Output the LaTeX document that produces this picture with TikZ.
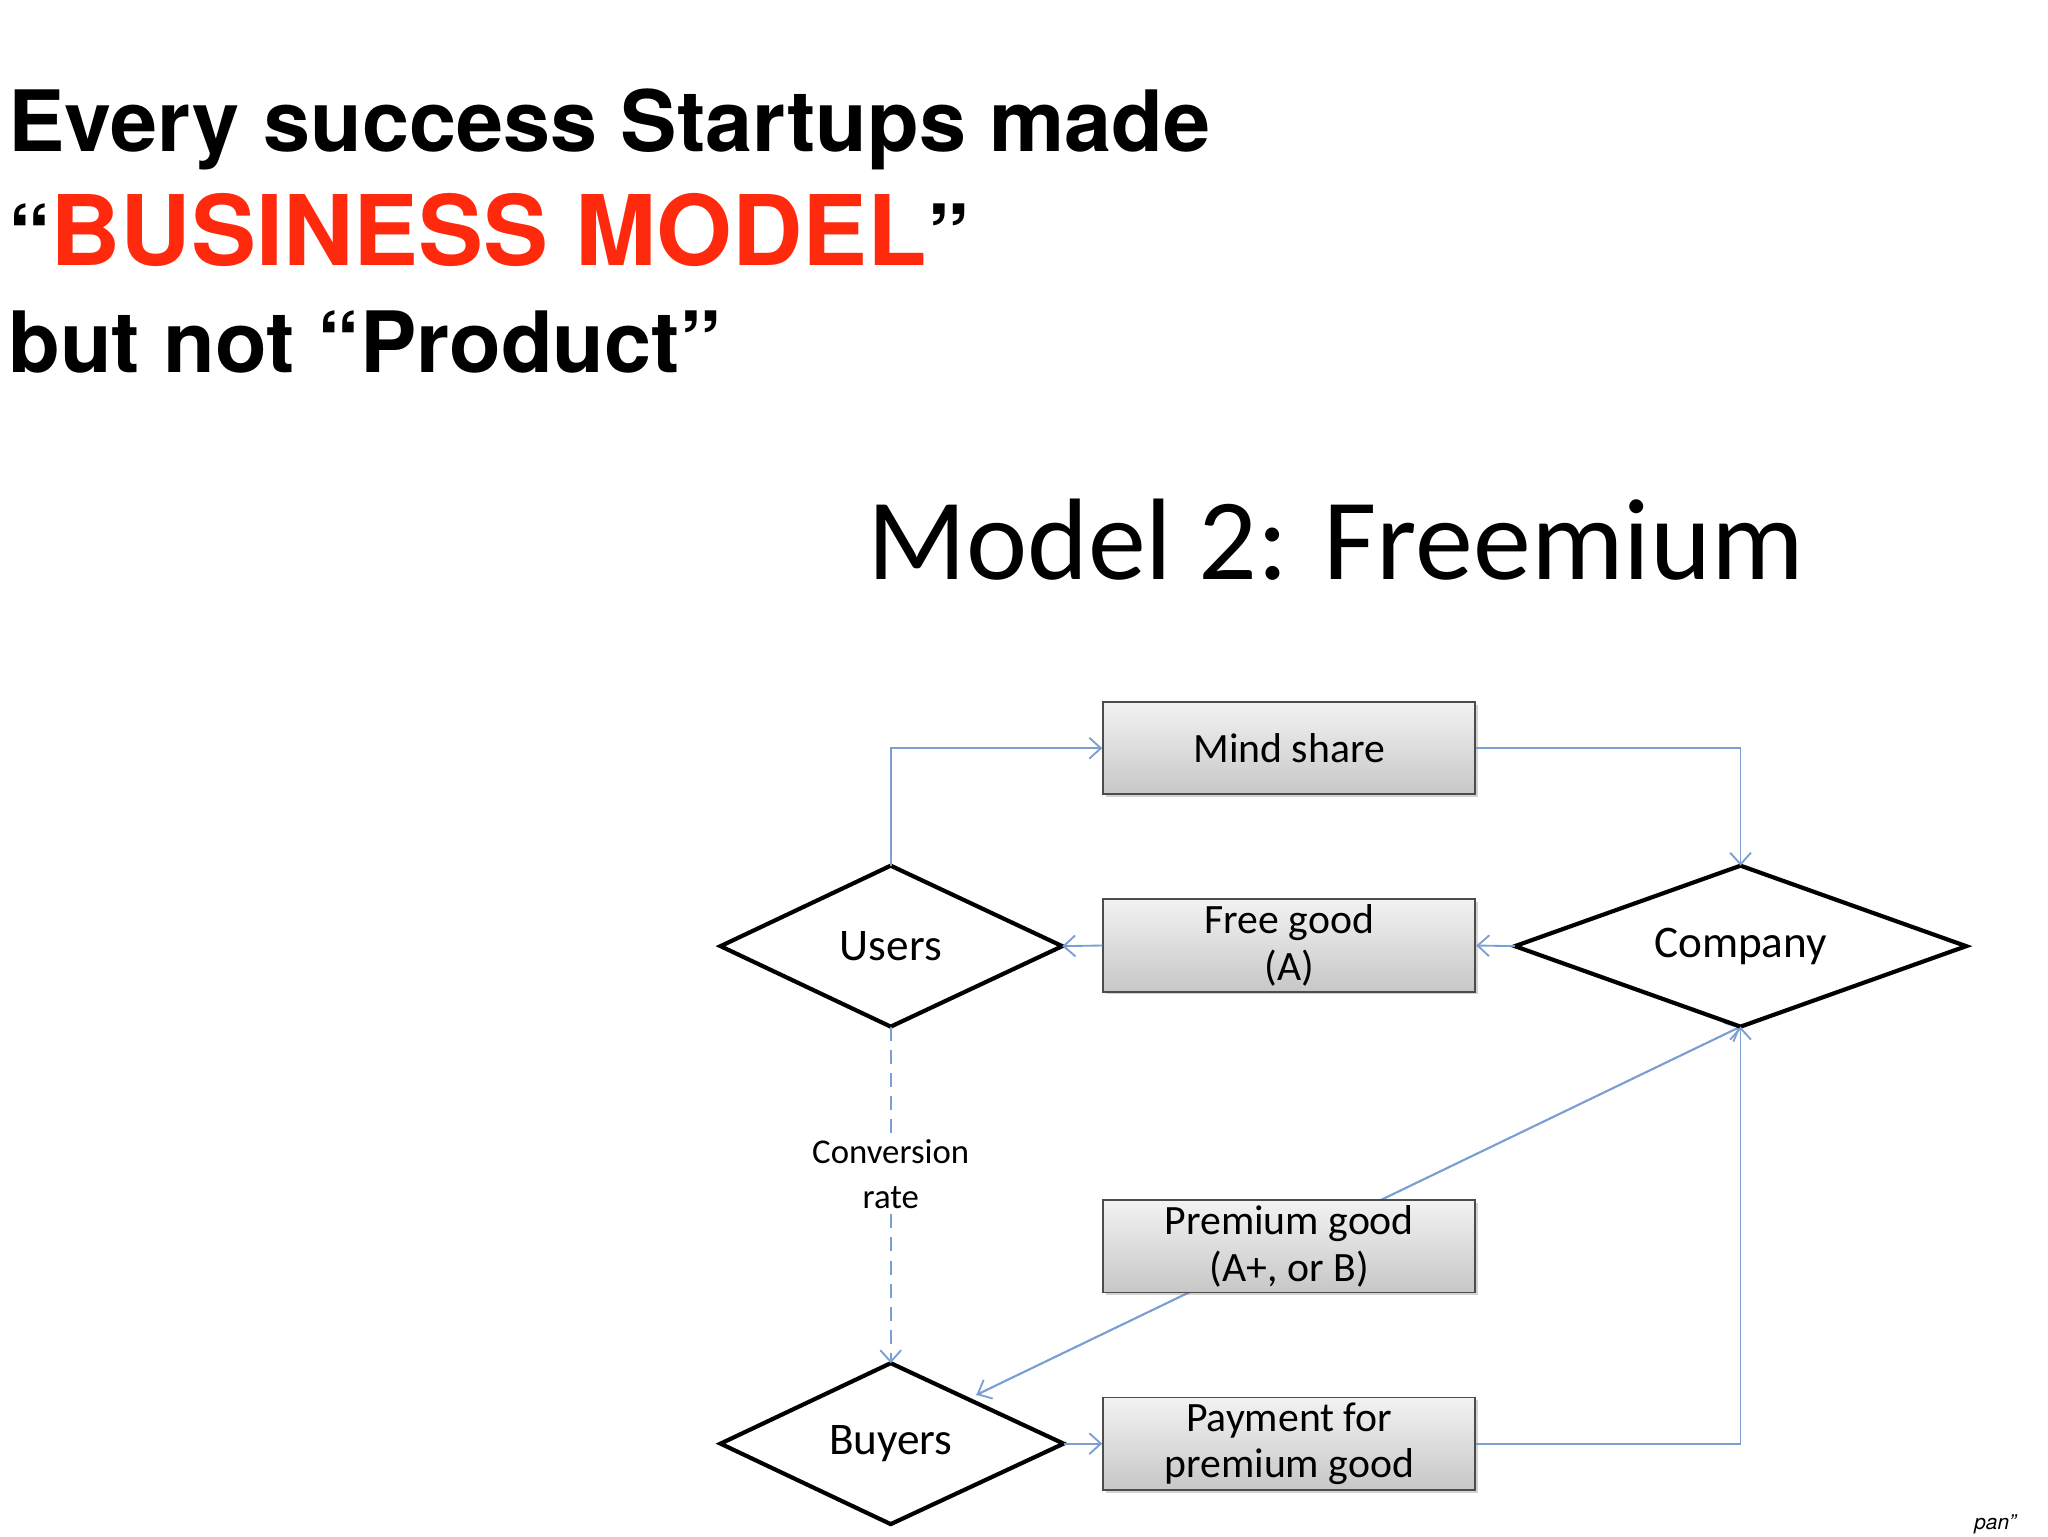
\documentclass[tikz,border=0pt]{standalone}
\usepackage{fontspec}
\setmainfont{TeX Gyre Heros}
\newfontfamily\calfont{Carlito}
\usetikzlibrary{arrows.meta,shadows}
\definecolor{ln}{HTML}{7B9FD3}
\definecolor{red1}{HTML}{FF2A0D}
\tikzset{
  box/.style={draw=black!70,line width=0.8pt,top color=white!95!black,bottom color=black!22,
    minimum width=5.64cm,minimum height=1.4cm,inner sep=0pt,align=center,
    font=\calfont\fontsize{18}{20}\selectfont,drop shadow={shadow xshift=1.2pt,shadow yshift=-1.2pt,opacity=0.35}},
  dia/.style={draw=black,line width=1.8pt,fill=white},
  lbl/.style={font=\calfont\fontsize{19.5}{22}\selectfont},
  conn/.style={draw=ln,line width=0.8pt},
  arr/.style={conn,-{Straight Barb[length=5pt,width=9pt]}},
  head/.style={font=\bfseries\fontsize{36.5}{44}\selectfont,anchor=base west,inner sep=0pt}
}
\begin{document}
\begin{tikzpicture}[x=0.02cm,y=-0.02cm]
\useasboundingbox (0,0) rectangle (1552,1164);
\node[head] (h1) at (6,115) {Every success Startups made};
\node[head] (h2) at (6,201) {“\textcolor{red1}{\fontsize{42}{50}\selectfont BUSINESS MODEL}”};
\node[head] (h3) at (6,282) {but not “Product”};
\node[font=\calfont\fontsize{50}{60}\selectfont,anchor=base] (t) at (1012,439) {Model 2: Freemium};
\coordinate (Un) at (675,656); \coordinate (Ue) at (805,717);
\coordinate (Us) at (675,778); \coordinate (Uw) at (546,717);
\coordinate (Cn) at (1319,656); \coordinate (Ce) at (1490,717);
\coordinate (Cs) at (1319,778); \coordinate (Cw) at (1148,717);
\coordinate (Bn) at (675,1033); \coordinate (Be) at (806,1094);
\coordinate (Bs) at (675,1155); \coordinate (Bw) at (546,1094);
\coordinate (Bt) at (740,1057);
\draw[arr] (Cs) -- (Bt);
\draw[arr] (Bt) -- (Cs);
\node[box] (ms) at (977,567) {Mind share};
\node[box] (fg) at (977,716.5) {Free good\\(A)};
\node[box] (pg) at (977,944.5) {Premium good\\(A+, or B)};
\node[box] (pp) at (977,1094) {Payment for\\premium good};
\draw[dia] (Un)--(Ue)--(Us)--(Uw)--cycle;
\draw[dia] (Cn)--(Ce)--(Cs)--(Cw)--cycle;
\draw[dia] (Bn)--(Be)--(Bs)--(Bw)--cycle;
\node[lbl] (U) at (675,717) {Users};
\node[lbl] (C) at (1319,717) {Company};
\node[lbl] (B) at (675,1094) {Buyers};
\draw[arr] (Un) |- (ms.west);
\draw[arr] (ms.east) -| (Cn);
\draw[arr] (Cw) -- (fg.east);
\draw[arr] (fg.west) -- (Ue);
\draw[arr] (Be) -- (pp.west);
\draw[arr] (pp.east) -| (Cs);
\node[font=\calfont\fontsize{15}{19.5}\selectfont,align=center,fill=white,inner sep=2pt] (cr) at (675,890) {Conversion\\rate};
\draw[conn,dash pattern=on 6pt off 4pt] (Us) -- (cr.north);
\draw[arr,dash pattern=on 6pt off 4pt] (cr.south) -- (Bn);
\node[font=\itshape\fontsize{9}{10}\selectfont,anchor=base] (pn) at (1512,1159) {pan”};
\end{tikzpicture}
\end{document}
